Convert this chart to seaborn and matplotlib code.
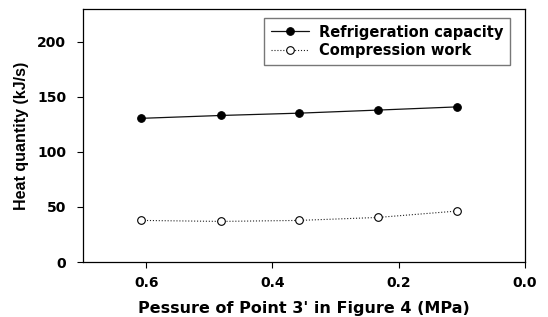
import matplotlib
matplotlib.use("Agg")
import matplotlib.pyplot as plt
import seaborn as sns
import pandas as pd

pressure = [0.608, 0.482, 0.358, 0.233, 0.108]
refrigeration = [130.6, 133.2, 135.3, 138.1, 141.0]
compression = [37.8, 36.9, 37.8, 40.5, 46.3]
x_ticks = [0.6, 0.4, 0.2, 0.0]
x_labels = ["0.6", "0.4", "0.2", "0.0"]
y_ticks = [0, 50, 100, 150, 200]

sns.set_theme(style="white")
plt.rcParams['font.family'] = ['DejaVu Sans']
for k in ["text.color", "axes.labelcolor", "xtick.color", "ytick.color"]:
    plt.rcParams[k] = "black"

W, H = 548, 317
fig = plt.figure(figsize=(W / 100, H / 100), dpi=100)
L, R, T, B = 83, 525, 9, 262
ax = fig.add_axes([L / W, 1 - B / H, (R - L) / W, (B - T) / H])

df_r = pd.DataFrame({"x": pressure, "y": refrigeration})
df_c = pd.DataFrame({"x": pressure, "y": compression})

sns.lineplot(data=df_r, x="x", y="y", ax=ax, color="#111111", linewidth=0.9,
             marker="o", markersize=5.5, markerfacecolor="black", markeredgecolor="black",
             label="Refrigeration capacity", sort=False)
sns.lineplot(data=df_c, x="x", y="y", ax=ax, color="#222222", linewidth=0.8, linestyle=":",
             marker="o", markersize=5.5, markerfacecolor="white", markeredgecolor="black",
             markeredgewidth=0.8, label="Compression work", sort=False)

ax.set_xlim(0.7, 0.0)
ax.set_ylim(0, 230)
ax.set_xticks(x_ticks)
ax.set_yticks(y_ticks)
ax.set_xticklabels(x_labels, fontsize=10, fontweight="bold")
ax.set_yticklabels([str(v) for v in y_ticks], fontsize=10, fontweight="bold")
ax.tick_params(axis="both", direction="out", length=4, width=0.8, color="black",
               labelcolor="black", bottom=True, left=True)
ax.tick_params(axis="x", pad=6)
ax.tick_params(axis="y", pad=8)
for s in ax.spines.values():
    s.set_visible(True)
    s.set_color("black")
    s.set_linewidth(0.9)

ax.set_xlabel("Pessure of Point 3' in Figure 4 (MPa)", fontsize=11.5, fontweight="bold",
              labelpad=8, color="black")
ax.set_ylabel("Heat quantity (kJ/s)", fontsize=11.5, fontweight="bold", labelpad=6,
              family=["Liberation Sans", "DejaVu Sans"], color="black")

leg = ax.legend(loc="upper right", bbox_to_anchor=((510 - L) / (R - L), 1 - (18 - T) / (B - T)),
                borderaxespad=0, fontsize=10.5, frameon=True, fancybox=False,
                handlelength=2.6, borderpad=0.45, labelspacing=0.25, handletextpad=0.7)
leg.get_frame().set_edgecolor("#555555")
leg.get_frame().set_linewidth(1.0)
for t in leg.get_texts():
    t.set_fontweight("bold")
    t.set_color("black")

fig.savefig("out.png", dpi=100)
